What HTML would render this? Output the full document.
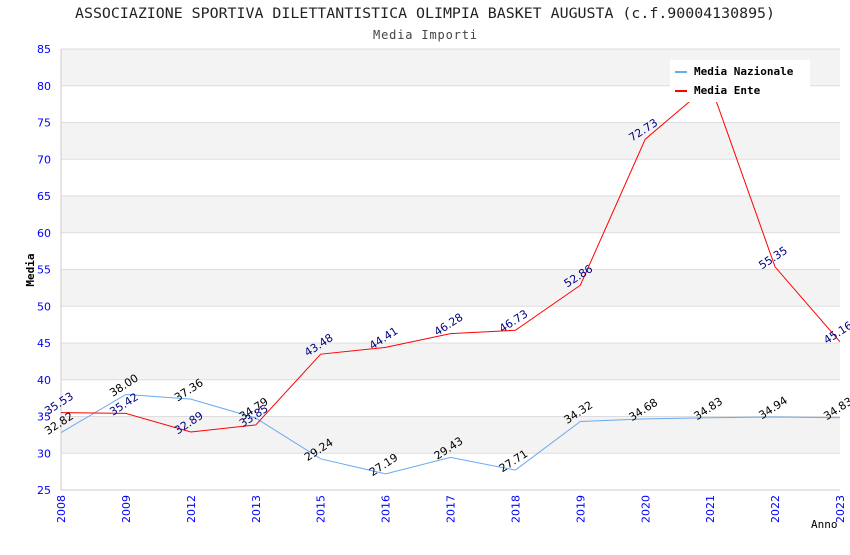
<!DOCTYPE html>
<html><head><meta charset="utf-8"><style>
body{margin:0;background:#fff;}
svg text{font-family:"DejaVu Sans","Liberation Sans",sans-serif;}
svg text.mono{font-family:"DejaVu Sans Mono","Liberation Mono",monospace;}
</style></head><body>
<svg id="chart" width="850" height="550" xmlns="http://www.w3.org/2000/svg">
<text class="mono" x="425" y="18" text-anchor="middle" font-size="14" textLength="700" lengthAdjust="spacingAndGlyphs" fill="#222">ASSOCIAZIONE SPORTIVA DILETTANTISTICA OLIMPIA BASKET AUGUSTA (c.f.90004130895)</text>
<text class="mono" x="425" y="39" text-anchor="middle" font-size="12" textLength="104" fill="#444">Media Importi</text>
<g id="bands"></g><g id="grid"></g><g id="axes"></g><g id="series"></g><g id="labels"></g>
<text class="mono" transform="translate(34,270) rotate(-90)" text-anchor="middle" font-size="11" font-weight="bold" fill="#000">Media</text>
<text class="mono" x="811" y="528" font-size="11" fill="#000">Anno</text>
<g>
<rect x="670" y="60" width="140" height="42" fill="#fff"/>
<line x1="675" y1="72" x2="687" y2="72" stroke="#6aaaf0" stroke-width="2"/>
<text class="mono" x="694" y="75" font-size="11" font-weight="bold">Media Nazionale</text>
<line x1="675" y1="91" x2="687" y2="91" stroke="#ff0000" stroke-width="2"/>
<text class="mono" x="694" y="94" font-size="11" font-weight="bold">Media Ente</text>
</g>
</svg>
<script>
const categories=["2008","2009","2012","2013","2015","2016","2017","2018","2019","2020","2021","2022","2023"];
const nazionale=[32.82,38.00,37.36,34.79,29.24,27.19,29.43,27.71,34.32,34.68,34.83,34.94,34.83];
const ente=[35.53,35.42,32.89,33.85,43.48,44.41,46.28,46.73,52.86,72.73,80.23,55.35,45.16];
const yTicks=[25,30,35,40,45,50,55,60,65,70,75,80,85];
const X0=61,X1=840,Y0=490,Y1=49,ymin=25,ymax=85;
const NS="http://www.w3.org/2000/svg";
const x=i=>X0+i*(X1-X0)/(categories.length-1);
const y=v=>Y0-(v-ymin)/(ymax-ymin)*(Y0-Y1);
function mk(t,a,p){const e=document.createElementNS(NS,t);for(const k in a)e.setAttribute(k,a[k]);p.appendChild(e);return e;}
const bands=document.getElementById('bands'),grid=document.getElementById('grid'),axes=document.getElementById('axes'),series=document.getElementById('series'),labels=document.getElementById('labels');
for(let i=0;i<yTicks.length-1;i++){
 if(i%2===1){const r=mk('rect',{x:X0,y:y(yTicks[i+1]),width:X1-X0,height:y(yTicks[i])-y(yTicks[i+1]),fill:'#f3f3f3'},bands);
 
 }
}
yTicks.forEach(v=>{
 const l=mk('line',{x1:X0,x2:X1,y1:y(v),y2:y(v),stroke:'#dddddd'},grid);
 
 
 const t=mk('text',{x:X0-10,y:y(v)+4,'text-anchor':'end','font-size':11,fill:'#0000ff'},axes);
 
 
 t.textContent=v;
});
mk('line',{x1:X0,x2:X0,y1:Y1,y2:Y0,stroke:'#ccc'},axes);
mk('line',{x1:X0,x2:X1,y1:Y0,y2:Y0,stroke:'#ccc'},axes);
categories.forEach((c,i)=>{
 const t=mk('text',{transform:`translate(${x(i)+4},${Y0+5}) rotate(-90)`,'text-anchor':'end','font-size':11,fill:'#0000ff'},axes);
 
 
 t.textContent=c;
});
function draw(vals,color,lc,name){
 const p=mk('polyline',{points:vals.map((v,i)=>x(i)+','+y(v)).join(' '),fill:'none',stroke:color,'stroke-width':1},series);
 
 
 vals.forEach((v,i)=>{
  const t=mk('text',{transform:`translate(${x(i)},${y(v)-6}) rotate(-33)`,'text-anchor':'middle','font-size':11,fill:lc},labels);
  
  
  t.textContent=v.toFixed(2);
 });
}
draw(nazionale,'#6aaaf0','#000','media-nazionale');
draw(ente,'#ff0000','#000080','media-ente');
</script>
</body></html>
